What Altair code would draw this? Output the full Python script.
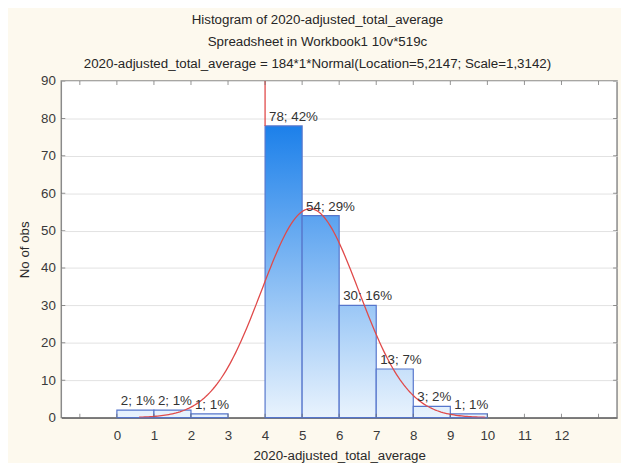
import altair as alt
import pandas as pd

# ---- data ----
bin_start = [0, 1, 2, 4, 5, 6, 7, 8, 9]
bin_end = [1, 2, 3, 5, 6, 7, 8, 9, 10]
counts = [2, 2, 1, 78, 54, 30, 13, 3, 1]
percents = [1, 1, 1, 42, 29, 16, 7, 2, 1]
x_ticks = list(range(0, 13))
x_minor_ticks = list(range(-1, 14))
y_ticks = list(range(0, 91, 10))
fit_n = [184]
fit_location = [5.2147]
fit_scale = [1.3142]
ref_line_x = [4]
ref_line_y = [78, 90]
x_range = [-1.5, 13.5]
y_range = [0, 90]

title_lines = [
    "Histogram of 2020-adjusted_total_average",
    "Spreadsheet in Workbook1 10v*519c",
    "2020-adjusted_total_average = 184*1*Normal(Location=5,2147; Scale=1,3142)",
]

df = pd.DataFrame({
    "start": bin_start,
    "end": bin_end,
    "count": counts,
    "label": [f"{c}; {p}%" for c, p in zip(counts, percents)],
})

FONT = "Liberation Sans"
x_scale = alt.Scale(domain=x_range, nice=False, zero=False)
y_scale = alt.Scale(domain=y_range, nice=False)

x_axis = alt.Axis(values=x_ticks, title="2020-adjusted_total_average", grid=False,
                  ticks=False, labelPadding=11, titlePadding=7, format="d",
                  labelOverlap=False)
y_axis = alt.Axis(values=y_ticks, title="No of obs", grid=True, ticks=False,
                  labelPadding=6, titlePadding=9, labelOverlap=False, format="d",
                  domain=False)

light = (233, 243, 253)
dark = (28, 128, 234)


def mix(t):
    return "#%02x%02x%02x" % tuple(round(l + (d - l) * t) for l, d in zip(light, dark))


def X(field):
    return alt.X(field, scale=x_scale, axis=x_axis)


def Y(field):
    return alt.Y(field, scale=y_scale, axis=y_axis)


bar_layers = []
for s, c in zip(bin_start, counts):
    grad = alt.Gradient(
        gradient="linear",
        stops=[alt.GradientStop(color=mix(min(c / 78.0, 1.0)), offset=0),
               alt.GradientStop(color=mix(0.0), offset=1)],
        x1=0, x2=0, y1=0, y2=1,
    )
    bar_layers.append(
        alt.Chart(df).transform_filter(alt.datum.start == s)
        .mark_bar(fill=grad, stroke="#5676cc", strokeWidth=1.2)
        .encode(x=X("start:Q"), x2="end:Q", y=Y("count:Q"), y2=alt.datum(0))
    )

labels = alt.Chart(df).mark_text(
    align="left", baseline="bottom", dx=4, dy=-2, font=FONT, fontSize=13.5, color="#333333"
).encode(x=X("start:Q"), y=Y("count:Q"), text="label:N")

curve = (
    alt.Chart(alt.sequence(0.6, 10.0, 0.05, as_="x"))
    .transform_calculate(
        y=f"{fit_n[0]} * 1 * densityNormal(datum.x, {fit_location[0]}, {fit_scale[0]})"
    )
    .mark_line(color="#e04a4a", strokeWidth=1.3, clip=True)
    .encode(x=X("x:Q"), y=Y("y:Q"))
)

ref_rule = (
    alt.Chart(pd.DataFrame({"x": ref_line_x, "y": [ref_line_y[0]], "y2": [ref_line_y[1]]}))
    .mark_rule(color="#e04a4a", strokeWidth=1.3)
    .encode(x=X("x:Q"), y=Y("y:Q"), y2="y2:Q")
)

# small inward tick marks on the frame (half of each tick is clipped away)
xt_rows = [{"x": v, "y": yy} for v in x_minor_ticks for yy in y_range]
x_frame_ticks = (
    alt.Chart(pd.DataFrame(xt_rows))
    .mark_tick(orient="vertical", size=8, thickness=1, color="#666666", clip=True)
    .encode(x=X("x:Q"), y=Y("y:Q"))
)
yt_rows = [{"x": xx, "y": v} for v in y_ticks for xx in x_range]
y_frame_ticks = (
    alt.Chart(pd.DataFrame(yt_rows))
    .mark_tick(orient="horizontal", size=8, thickness=1, color="#666666", clip=True)
    .encode(x=X("x:Q"), y=Y("y:Q"))
)

chart = (
    alt.layer(*bar_layers, curve, ref_rule, labels, x_frame_ticks, y_frame_ticks)
    .properties(
        width=563,
        height=341,
        autosize=alt.AutoSizeParams(type="none"),
        padding={"left": 54, "top": 71, "right": 4, "bottom": 43},
        background="#fdf9ee",
        title=alt.TitleParams(
            text=title_lines, anchor="middle", font=FONT, fontSize=13.5, fontWeight="normal",
            color="#262626", lineHeight=22, offset=4, dx=-22,
        ),
    )
    .configure_view(fill="white", stroke="#8a8a8a", strokeWidth=1.5)
    .configure_axis(
        labelFont=FONT, titleFont=FONT, labelFontSize=13.5, titleFontSize=13.5,
        labelColor="#3a3a3a", titleColor="#2a2a2a", titleFontWeight="normal",
        gridColor="#e2e2e2", gridWidth=1, domainColor="#555555", domainWidth=1.2,
    )
)

chart.save("out.html", embed_options={"renderer": "svg", "actions": False})
